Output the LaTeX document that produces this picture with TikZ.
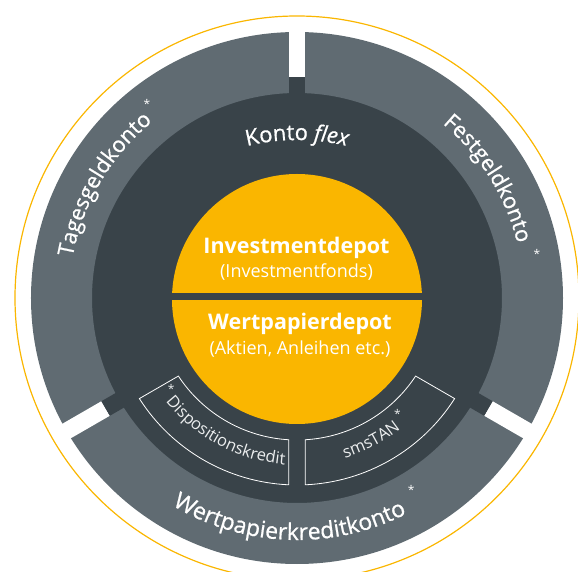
\documentclass[tikz,border=0pt]{standalone}
\usepackage{fontspec}
\setmainfont{Open Sans}
\newfontfamily\opensansmed[FakeBold=0.7]{Open Sans}
\usetikzlibrary{decorations.text}
\definecolor{ringgray}{RGB}{96,107,114}
\definecolor{darkslate}{RGB}{57,67,73}
\definecolor{ingyellow}{RGB}{250,182,0}
\definecolor{boxtext}{RGB}{235,237,238}
\newcommand\outerlbl{\opensansmed\fontsize{23}{23}\selectfont}
\newcommand\outerlblsm{\opensansmed\fontsize{21.8}{21.8}\selectfont}
\newcommand\kflbl{\opensansmed\fontsize{22}{22}\selectfont}
\newcommand\boxlbl{\fontsize{16.5}{16.5}\selectfont}
\tikzset{
  gaplight/.style={fill=white},
  gapdark/.style={fill=darkslate},
  sectorbox/.style={draw=white, line width=0.8pt},
  arctext/.style={decorate, decoration={text along path, text align=center, text color=white}},
  startxt/.style={text=white, font=\fontsize{12}{12}\selectfont, inner sep=0pt},
  centertitle/.style={text=white, font=\bfseries\fontsize{21.5}{21.5}\selectfont, inner sep=0pt, anchor=base},
  centersub/.style={text=white, font=\fontsize{18}{18}\selectfont, inner sep=0pt, anchor=base},
}
\begin{document}
\begin{tikzpicture}[x=1pt,y=1pt]
\useasboundingbox (-297,-274) rectangle (281,298);
\clip (-297,-274) rectangle (281,298);
% outer thin yellow ring
\draw[ingyellow, line width=1.2pt] (0,0) circle[radius=282pt];
% dark disc (Konto flex)
\fill[darkslate] (0,0) circle[radius=221pt];
% gray outer ring
\fill[ringgray, even odd rule] (0,0) circle[radius=266pt] (0,0) circle[radius=205pt];
% gaps between the three outer segments
\foreach \a in {90,210,330} {
  \fill[gaplight, rotate=\a] (221,-8.4) rectangle (272,8.4);
  \fill[gapdark, rotate=\a] (200,-8.4) rectangle (221,8.4);
}
% yellow centre disc with divider
\fill[ingyellow] (0,-1) circle[radius=125pt];
\fill[darkslate] (-130,-2.5) rectangle (130,4.5);
% the two sector boxes
\draw[sectorbox] (212.544:187pt) arc[start angle=212.544, end angle=267.456, radius=187pt]
  -- (266.649:142pt) arc[start angle=266.649, end angle=213.351, radius=142pt] -- cycle;
\draw[sectorbox] (272.544:187pt) arc[start angle=272.544, end angle=327.456, radius=187pt]
  -- (326.649:142pt) arc[start angle=326.649, end angle=273.351, radius=142pt] -- cycle;
% centre texts
\node[centertitle] (inv) at (-0.5,44.7) {Investmentdepot};
\node[centersub] (invsub) at (-0.5,20) {(Investmentfonds)};
\node[centertitle] (wpd) at (3,-32) {Wertpapierdepot};
\node[centersub] (wpdsub) at (3,-57) {(Aktien, Anleihen etc.)};
% curved texts
\path[arctext, shift={(0,-50)}, decoration={text={|\kflbl|Konto |\kflbl\itshape|flex}}]
  (120:208pt) arc[start angle=120, end angle=60, radius=208pt];
\path[arctext, decoration={text={|\outerlblsm|Tagesgeldkonto}}]
  (189.5:228pt) arc[start angle=189.5, end angle=109.5, radius=228pt];
\path[arctext, decoration={text={|\outerlblsm|Festgeldkonto}}]
  (72:227pt) arc[start angle=72, end angle=-8, radius=227pt];
\path[arctext, decoration={text={|\outerlbl|Wertpapierkreditkonto}}]
  (222:242pt) arc[start angle=222, end angle=314, radius=242pt];
\path[arctext, decoration={text color=boxtext, text={|\boxlbl|Dispositionskredit}}]
  (202:167pt) arc[start angle=202, end angle=282, radius=167pt];
\path[arctext, decoration={text color=boxtext, text={|\boxlbl|smsTAN}}]
  (260:167pt) arc[start angle=260, end angle=335, radius=167pt];
% footnote asterisks
\node[startxt] (s1) at (127.8:245pt) {*};
\node[startxt] (s2) at (10.5:244pt) {*};
\node[startxt] (s3) at (300.8:223pt) {*};
\node[startxt, text=boxtext] (s4) at (215.8:155pt) {*};
\node[startxt, text=boxtext] (s5) at (311:153pt) {*};
\end{tikzpicture}
\end{document}
